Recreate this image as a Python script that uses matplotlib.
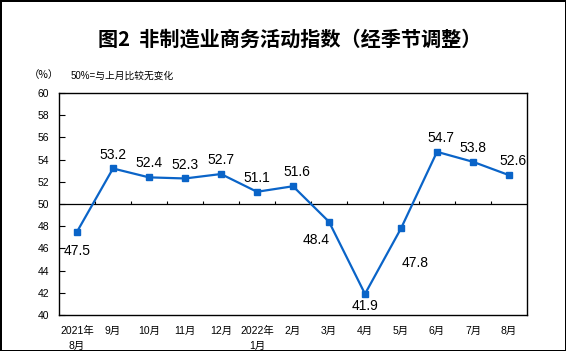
import numpy as np
import matplotlib.pyplot as plt

plt.rcParams['font.family'] = ['Liberation Sans', 'Noto Sans CJK SC', 'DejaVu Sans']

months = ['2021年\n8月', '9月', '10月', '11月', '12月', '2022年\n1月', '2月',
          '3月', '4月', '5月', '6月', '7月', '8月']
values = [47.5, 53.2, 52.4, 52.3, 52.7, 51.1, 51.6, 48.4, 41.9, 47.8, 54.7, 53.8, 52.6]
# label offsets (points) relative to each marker
offsets = [(0, -14), (0, 10), (0, 10), (0, 10), (0, 10), (0, 10), (3, 10),
           (-9, -13), (0, -9), (10, -25), (3, 10), (0, 10), (3, 10)]

blue = '#0a64c8'
x = np.arange(len(values))

fig = plt.figure(figsize=(5.66, 3.51), dpi=100)
fig.patch.set_edgecolor('black')
fig.patch.set_linewidth(2)
ax = fig.add_axes([59 / 566, 36 / 351, 468 / 566, 222 / 351])

ax.plot(x, values, color=blue, lw=1.6, marker='s', ms=4.5, zorder=3)
ax.axhline(50, color='black', lw=0.9, zorder=2)
# small category-boundary ticks along the 50 line
ax.vlines(np.arange(0.5, len(values) - 1), 50, 50.3, color='black', lw=0.8)

for xi, v, off in zip(x, values, offsets):
    ax.annotate(f'{v:.1f}', (xi, v), xytext=off, textcoords='offset points',
                ha='center', va='center', fontsize=10, color='black')

ax.set_xlim(-0.5, len(values) - 0.5)
ax.set_ylim(40, 60)
ax.set_yticks(np.arange(40, 61, 2))
ax.tick_params(axis='y', direction='in', length=4, width=0.8, labelsize=7.5, pad=7)
ax.set_xticks(x)
ax.set_xticklabels(months, fontsize=7.5, linespacing=1.6)
ax.tick_params(axis='x', length=0, pad=8)
for s in ax.spines.values():
    s.set_linewidth(1.0)

fig.text(0.512, 0.89, '图2  非制造业商务活动指数（经季节调整）', ha='center', va='center',
         fontsize=14.5, fontweight='bold', family=['Noto Sans CJK SC'])
fig.text(0.05, 0.785, '（%）', ha='left', va='center', fontsize=7.5,
         family=['Noto Sans CJK SC'])
fig.text(0.124, 0.785, '50%=与上月比较无变化', ha='left', va='center', fontsize=7)

fig.savefig('out.png', dpi=100)
